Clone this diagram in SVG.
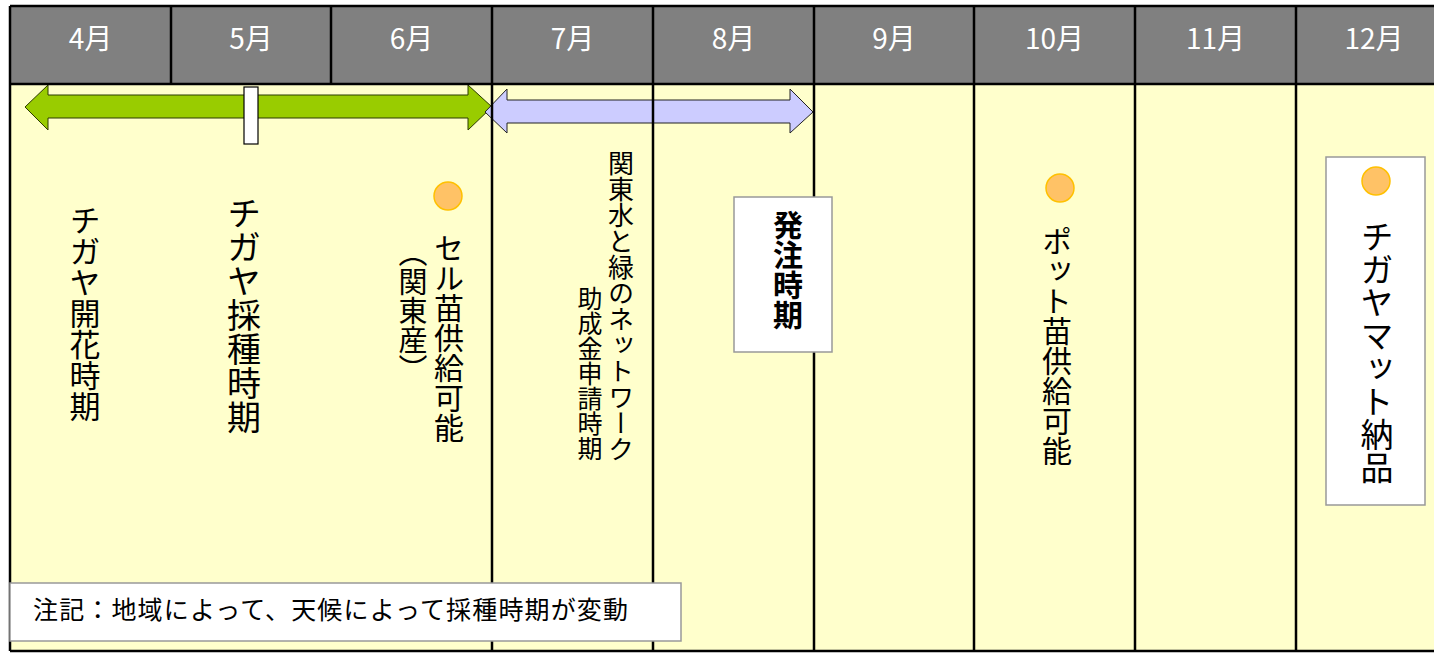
<svg xmlns="http://www.w3.org/2000/svg" width="1434" height="653" viewBox="0 0 1434 653">
<style>
.jp{font-family:"Noto Sans CJK JP","Noto Sans CJK SC",sans-serif;}
.mon{font-size:28px;fill:#fff;text-anchor:middle;}
.vt{writing-mode:vertical-rl;fill:#000;}
.grid{stroke:#000;stroke-width:2.5;fill:none;}
.dot{fill:#FFC266;stroke:#FFC000;stroke-width:1.5;}
.box{fill:#fff;stroke:#999;stroke-width:1.5;}
</style>
<rect x="0" y="0" width="1434" height="653" fill="#fff"/>
<g id="body"><rect x="10" y="84" width="1430" height="567" fill="#FFFFCC"/></g>
<g id="header">
<rect x="10" y="6" width="1430" height="78" fill="#808080"/>
<g class="jp mon">
<text x="90.5" y="49">4月</text>
<text x="251" y="49">5月</text>
<text x="411.5" y="49">6月</text>
<text x="572.5" y="49">7月</text>
<text x="733.5" y="49">8月</text>
<text x="894" y="49">9月</text>
<text x="1054.5" y="49">10月</text>
<text x="1215.5" y="49">11月</text>
<text x="1374" y="49">12月</text>
</g>
</g>
<g id="connectors">
<polygon id="green-arrow" points="25,107 48,85 48,95 468,95 468,85 492,107 468,130 468,118 48,118 48,130" fill="#99CC00" stroke="#2b3a00" stroke-width="1"/>
<rect id="marker" x="244" y="87" width="14" height="57" fill="#fff" stroke="#000" stroke-width="1.2"/>
<polygon id="lavender-arrow" points="485,112 507,89 507,100 790,100 790,89 813,112 790,133 790,123 507,123 507,133" fill="#CCCCFF" stroke="#222" stroke-width="1"/>
</g>
<g id="gridlines" class="grid">
<path d="M10,6 H1434 M10,84 H1434 M10,651 H1434 M10,6 V651"/>
<path d="M171,6 V84 M331,6 V84"/>
<path d="M492,6 V651 M653,6 V651 M814,6 V651 M974,6 V651 M1135,6 V651 M1296,6 V651"/>
</g>
<g id="kaika"><text class="jp vt" x="85" y="205" font-size="31">チガヤ開花時期</text></g>
<g id="saishu"><text class="jp vt" x="244" y="196" font-size="34">チガヤ採種時期</text></g>
<g id="cell-nae">
<circle class="dot" cx="448" cy="196" r="14"/>
<text class="jp vt" x="449" y="233" font-size="30">セル苗供給可能</text>
<text class="jp vt" x="413" y="238" font-size="29">（関東産）</text>
</g>
<g id="josei">
<text class="jp vt" x="621" y="150" font-size="26">関東水と緑のネットワーク</text>
<text class="jp vt" x="590" y="461" font-size="25" text-anchor="end">助成金申請時期</text>
</g>
<g id="hatchu">
<rect class="box" x="734" y="197" width="98" height="155"/>
<text class="jp vt" x="788" y="210" font-size="30" font-weight="bold">発注時期</text>
</g>
<g id="pot-nae">
<circle class="dot" cx="1060" cy="188" r="14"/>
<text class="jp vt" x="1057" y="226" font-size="30">ポット苗供給可能</text>
</g>
<g id="nouhin">
<rect class="box" x="1326" y="157" width="99" height="348"/>
<circle class="dot" cx="1376" cy="181" r="14"/>
<text class="jp vt" x="1377" y="220" font-size="33">チガヤマット納品</text>
</g>
<g id="note">
<rect class="box" x="10" y="583" width="671" height="58"/>
<text class="jp" x="33" y="619" font-size="25" textLength="595" lengthAdjust="spacing">注記：地域によって、天候によって採種時期が変動</text>
</g>
</svg>
